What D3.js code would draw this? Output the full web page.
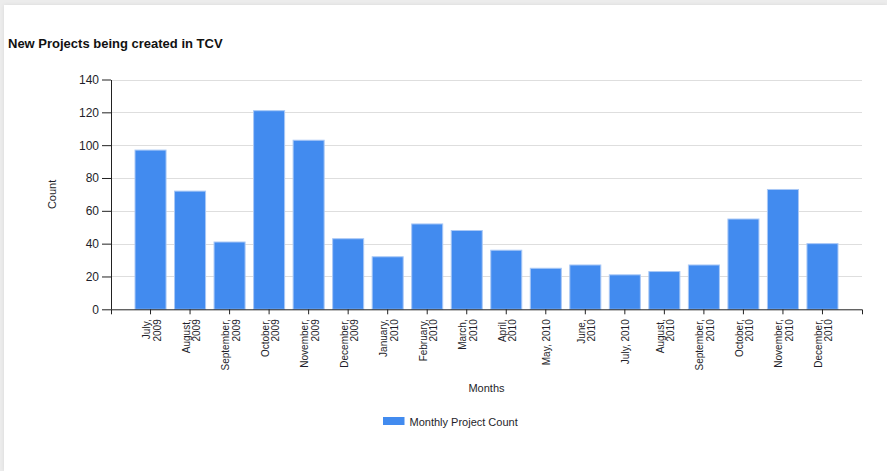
<!DOCTYPE html>
<html>
<head>
<meta charset="utf-8">
<script src="https://cdn.jsdelivr.net/npm/d3@7"></script>
<style>
  html, body { margin: 0; padding: 0; background: #ececec; }
  #wrap { position: absolute; left: 4px; top: 5px; width: 883px; height: 466px; background: #fff;
          box-shadow: 0 0 4px rgba(0,0,0,0.08); }
  svg { position: absolute; left: 0; top: 0; }
  text { font-family: "Liberation Sans", Arial, sans-serif; fill: #1e1e2a; }
</style>
</head>
<body>
<div id="wrap"></div>
<svg id="chart" width="887" height="471"></svg>
<script>
// Monthly count of newly created projects
const months = [
  "July, 2009", "August, 2009", "September, 2009", "October, 2009", "November, 2009",
  "December, 2009", "January, 2010", "February, 2010", "March, 2010", "April, 2010",
  "May, 2010", "June, 2010", "July, 2010", "August, 2010", "September, 2010",
  "October, 2010", "November, 2010", "December, 2010"
];
// Tick labels as they wrap under the axis
const tickLines = [
  ["July,", "2009"], ["August,", "2009"], ["September,", "2009"], ["October,", "2009"],
  ["November,", "2009"], ["December,", "2009"], ["January,", "2010"], ["February,", "2010"],
  ["March,", "2010"], ["April,", "2010"], ["May, 2010"], ["June,", "2010"], ["July, 2010"],
  ["August,", "2010"], ["September,", "2010"], ["October,", "2010"], ["November,", "2010"],
  ["December,", "2010"]
];
const projectCounts = [97, 72, 41, 121, 103, 43, 32, 52, 48, 36, 25, 27, 21, 23, 27, 55, 73, 40];
const yTicks = [0, 20, 40, 60, 80, 100, 120, 140];

const svg = d3.select("#chart");
const plotL = 111, plotR = 862, plotT = 79.5, plotB = 309.3;

const x = d3.scaleBand().domain(months).range([plotL, plotR])
  .paddingInner(0.215).paddingOuter(0.6075);
const y = d3.scaleLinear().domain([0, 140]).range([plotB, plotT]);

// Title
svg.append("text").attr("x", 8).attr("y", 48)
  .style("font-size", "13px").style("font-weight", "bold").style("fill", "#111")
  .text("New Projects being created in TCV");

// Horizontal gridlines
svg.append("g").selectAll("line").data(yTicks.filter(d => d > 0)).join("line")
  .attr("x1", plotL).attr("x2", plotR)
  .attr("y1", d => Math.round(y(d)) + 0.5).attr("y2", d => Math.round(y(d)) + 0.5)
  .attr("stroke", "#dedede").attr("stroke-width", 1.2);

// Bars
svg.append("g").selectAll("rect").data(projectCounts).join("rect")
  .attr("x", (d, i) => x(months[i]))
  .attr("width", x.bandwidth())
  .attr("y", d => y(d))
  .attr("height", d => y(0) - y(d))
  .attr("fill", "#428bef")
  .attr("stroke", "#a9c8f6").attr("stroke-width", 1);

// Y axis
const yAxis = svg.append("g").attr("transform", `translate(${plotL},0)`)
  .call(d3.axisLeft(y).tickValues(yTicks).tickSize(9).tickSizeOuter(0).tickPadding(3));
yAxis.selectAll("text").style("font-size", "12px");
yAxis.selectAll("line, path").attr("stroke", "#222");

// X axis
const xAxis = svg.append("g").attr("transform", `translate(0,${plotB})`)
  .call(d3.axisBottom(x).tickSize(5).tickSizeOuter(5).tickFormat(""));
xAxis.selectAll("line, path").attr("stroke", "#222");

// Rotated, wrapped month labels
xAxis.selectAll(".tick").each(function(d, i) {
  const lines = tickLines[i];
  const t = d3.select(this).append("text")
    .attr("transform", "translate(0,10) rotate(-90)")
    .attr("text-anchor", "end")
    .style("font-size", "10px");
  const offsets = lines.length === 2 ? [-0.5, 10] : [4.5];
  lines.forEach((s, k) => {
    t.append("tspan").attr("x", 0).attr("y", offsets[k]).text(s);
  });
});

// Axis titles
svg.append("text").attr("transform", `translate(56,${(plotT + plotB) / 2}) rotate(-90)`)
  .attr("text-anchor", "middle").style("font-size", "11px").text("Count");
svg.append("text").attr("x", (plotL + plotR) / 2).attr("y", 392)
  .attr("text-anchor", "middle").style("font-size", "11px").text("Months");

// Legend
const legend = svg.append("g").attr("transform", "translate(383,417)");
legend.append("rect").attr("width", 21.5).attr("height", 8).attr("fill", "#428bef");
legend.append("text").attr("x", 26.5).attr("y", 9).style("font-size", "11px").text("Monthly Project Count");
</script>
</body>
</html>
